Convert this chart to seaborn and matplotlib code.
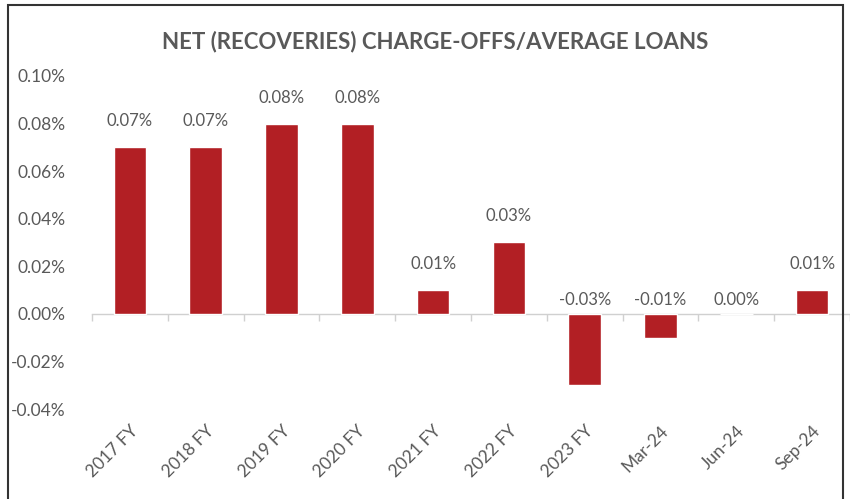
import matplotlib
matplotlib.use("Agg")
import matplotlib.pyplot as plt
from matplotlib.patches import Rectangle
import pandas as pd
import seaborn as sns

sns.set_theme(style="white")
plt.rcParams['font.family'] = ['Lato', 'DejaVu Sans']

periods = ["2017 FY", "2018 FY", "2019 FY", "2020 FY", "2021 FY",
           "2022 FY", "2023 FY", "Mar-24", "Jun-24", "Sep-24"]
ratios = [0.07, 0.07, 0.08, 0.08, 0.01, 0.03, -0.03, -0.01, 0.00, 0.01]
y_ticks = [-0.04, -0.02, 0.00, 0.02, 0.04, 0.06, 0.08, 0.10]

df = pd.DataFrame({"period": periods, "ratio": ratios})

grey = "#595959"
red = "#B21F24"

fig = plt.figure(figsize=(8.5, 4.99), dpi=100)
ax = fig.add_axes([92 / 850, 90 / 499, 1 - 92 / 850, 333 / 499])

sns.barplot(data=df, x="period", y="ratio", color=red, width=0.43,
            saturation=1, ax=ax)

ax.set_ylim(-0.04, 0.10)
ax.set_xlim(-0.5, len(periods) - 0.5)
ax.set_yticks(y_ticks)
ax.set_yticklabels([f"{t:.2f}%" for t in y_ticks])
ax.set_xlabel("")
ax.set_ylabel("")
for s in ax.spines.values():
    s.set_visible(False)
ax.tick_params(axis="y", length=0, labelsize=12.5, labelcolor=grey, pad=19)
ax.tick_params(axis="x", length=0, labelsize=12.5, labelcolor=grey, pad=10)
for lab in ax.get_xticklabels():
    lab.set_rotation(45)
    lab.set_ha("right")
    lab.set_rotation_mode("anchor")

# zero line with category boundary ticks
zero_pos = (0 - (-0.04)) / (0.10 - (-0.04))
zax = ax.secondary_xaxis(zero_pos)
zax.set_xticks([i - 0.5 for i in range(len(periods) + 1)])
zax.set_xticklabels([])
zax.tick_params(length=5, color="#d0d0d0", width=1)
zax.spines["bottom"].set_color("#d0d0d0")
zax.spines["bottom"].set_linewidth(1)
zax.spines["top"].set_visible(False)

# data labels
for i, v in enumerate(ratios):
    off = 13 if v > 0 else 4
    ax.annotate(f"{v:.2f}%", (i, max(v, 0)), xytext=(0, off),
                textcoords="offset points", ha="center", va="bottom",
                fontsize=12, color=grey)

fig.text(0.512, 1 - 42 / 499, "NET (RECOVERIES) CHARGE-OFFS/AVERAGE LOANS",
         ha="center", va="center", fontsize=16, fontweight="bold", color=grey)

fig.add_artist(Rectangle((8 / 850, -0.1), (843 - 8) / 850, 1.1 - 5 / 499,
                         transform=fig.transFigure, fill=False,
                         edgecolor="#333333", linewidth=1.5))

fig.savefig("out.png", dpi=100)
